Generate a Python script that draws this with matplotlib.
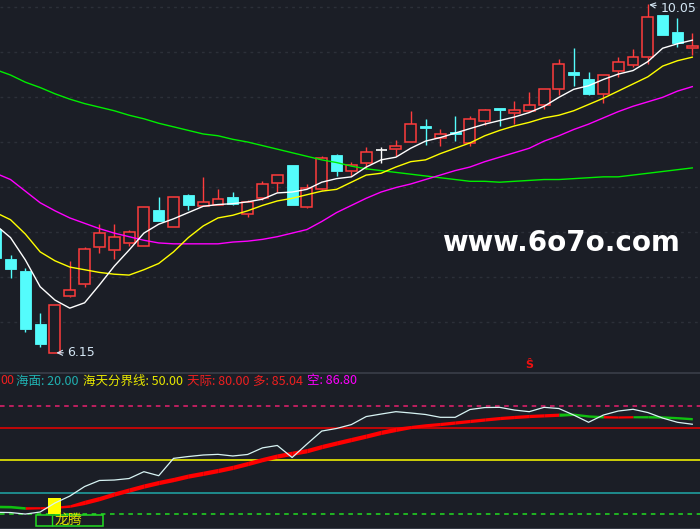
import numpy as np
import matplotlib.pyplot as plt
import matplotlib.transforms as mtransforms
from matplotlib.patches import Rectangle

plt.rcParams['font.family'] = ['Noto Sans CJK SC', 'DejaVu Sans']

# 主图 K线 (最左一根只露出一半)
opens = [7.54, 7.20, 7.07, 6.47, 6.15, 6.79, 6.92, 7.34, 7.30, 7.38,
         7.35, 7.75, 7.56, 7.92, 7.79, 7.80, 7.89, 7.70, 7.88, 8.05,
         8.25, 7.78, 7.98, 8.37, 8.18, 8.28, 8.42, 8.43, 8.51, 8.69,
         8.56, 8.61, 8.50, 8.74, 8.89, 8.84, 8.86, 8.92, 9.10, 9.29,
         9.21, 9.05, 9.30, 9.37, 9.46, 9.93, 9.74, 9.56]
highs = [7.56, 7.25, 7.10, 6.60, 6.68, 7.18, 7.33, 7.59, 7.59, 7.52,
         7.78, 7.89, 7.89, 7.93, 8.12, 7.98, 7.95, 7.86, 8.07, 8.14,
         8.25, 8.04, 8.35, 8.38, 8.29, 8.45, 8.45, 8.53, 8.86, 8.77,
         8.66, 8.80, 8.80, 8.88, 8.89, 8.97, 9.07, 9.10, 9.44, 9.56,
         9.29, 9.26, 9.46, 9.55, 10.05, 9.93, 9.90, 9.73]
lows = [7.19, 6.99, 6.38, 6.21, 6.15, 6.78, 6.89, 7.27, 7.20, 7.35,
        7.35, 7.63, 7.56, 7.75, 7.79, 7.80, 7.81, 7.67, 7.86, 7.95,
        7.80, 7.77, 7.97, 8.13, 8.13, 8.21, 8.27, 8.35, 8.51, 8.48,
        8.47, 8.52, 8.47, 8.70, 8.69, 8.71, 8.85, 8.88, 9.04, 9.14,
        9.04, 8.95, 9.24, 9.35, 9.38, 9.71, 9.57, 9.48]
closes = [7.21, 7.09, 6.42, 6.25, 6.68, 6.85, 7.31, 7.49, 7.45, 7.50,
          7.78, 7.63, 7.89, 7.80, 7.84, 7.87, 7.82, 7.84, 8.04, 8.14,
          7.81, 8.00, 8.33, 8.19, 8.25, 8.40, 8.42, 8.47, 8.71, 8.67,
          8.60, 8.60, 8.77, 8.87, 8.87, 8.87, 8.92, 9.10, 9.38, 9.26,
          9.05, 9.26, 9.41, 9.46, 9.91, 9.71, 9.62, 9.59]

# 均线
ma5 = [7.58, 7.44, 7.19, 6.89, 6.74, 6.65, 6.71, 6.91, 7.12, 7.30,
       7.49, 7.59, 7.65, 7.72, 7.79, 7.81, 7.82, 7.84, 7.87, 7.94,
       7.95, 7.98, 8.06, 8.10, 8.12, 8.23, 8.31, 8.34, 8.44, 8.52,
       8.56, 8.61, 8.66, 8.71, 8.75, 8.79, 8.84, 8.91, 9.01, 9.10,
       9.14, 9.21, 9.27, 9.31, 9.41, 9.56, 9.61, 9.65]
ma10 = [7.72, 7.64, 7.48, 7.28, 7.18, 7.11, 7.08, 7.05, 7.03, 7.02,
        7.08, 7.15, 7.28, 7.44, 7.57, 7.66, 7.69, 7.74, 7.80, 7.85,
        7.88, 7.92, 7.96, 7.98, 8.06, 8.14, 8.16, 8.23, 8.29, 8.31,
        8.38, 8.44, 8.50, 8.58, 8.64, 8.69, 8.73, 8.78, 8.81, 8.86,
        8.93, 9.00, 9.08, 9.16, 9.24, 9.36, 9.42, 9.46]
ma20 = [8.16, 8.09, 7.96, 7.83, 7.74, 7.66, 7.60, 7.54, 7.49, 7.45,
        7.41, 7.38, 7.37, 7.37, 7.37, 7.37, 7.39, 7.40, 7.42, 7.45,
        7.49, 7.53, 7.62, 7.72, 7.80, 7.88, 7.95, 8.00, 8.04, 8.09,
        8.14, 8.19, 8.23, 8.29, 8.34, 8.39, 8.44, 8.52, 8.58, 8.65,
        8.71, 8.78, 8.85, 8.91, 8.96, 9.01, 9.08, 9.13]
ma60 = [9.32, 9.26, 9.18, 9.12, 9.05, 8.99, 8.94, 8.90, 8.86, 8.81,
        8.77, 8.72, 8.68, 8.64, 8.60, 8.58, 8.54, 8.51, 8.47, 8.43,
        8.39, 8.35, 8.31, 8.28, 8.24, 8.21, 8.19, 8.17, 8.15, 8.13,
        8.11, 8.09, 8.07, 8.07, 8.06, 8.07, 8.08, 8.09, 8.09, 8.10,
        8.11, 8.12, 8.12, 8.14, 8.16, 8.18, 8.20, 8.22]
grid_levels = [10.02, 9.52, 9.01, 8.51, 8.01, 7.50, 7.00, 6.49]

# 副图
white_line = [2.0, 1.8, 0.4, 2.3, 10.6, 17.0, 25.8, 31.4, 31.8, 33.2,
              39.5, 35.8, 51.8, 53.5, 54.9, 55.5, 54.0, 55.4, 61.5, 63.7,
              52.6, 65.0, 77.0, 79.4, 83.0, 90.4, 92.7, 94.9, 93.7, 92.3,
              89.7, 89.7, 96.9, 98.7, 98.9, 96.4, 94.9, 98.9, 97.8, 91.8,
              85.1, 91.8, 95.5, 97.1, 94.1, 89.0, 85.1, 83.3]
duo = [6.2, 6.0, 4.8, 7.2, 7.6, 9.0, 13.2, 16.7, 20.9, 24.6,
       28.3, 31.5, 34.3, 37.5, 40.0, 42.6, 45.5, 49.0, 52.7, 56.0,
       58.5, 60.9, 64.7, 68.0, 71.2, 74.4, 77.8, 80.6, 82.2, 83.8,
       85.0, 86.4, 87.8, 89.2, 90.5, 91.5, 92.4, 93.0, 93.6, 91.4,
       89.8, 89.1, 91.0, 91.2, 89.1, 88.9, 88.2, 87.3]
kong = [8.6, 8.4, 7.2, 5.2, 5.6, 6.6, 9.2, 12.7, 16.9, 20.6,
        24.3, 27.5, 30.3, 33.5, 36.0, 38.6, 41.5, 45.0, 48.7, 52.0,
        54.5, 56.9, 60.7, 64.0, 67.2, 70.4, 73.8, 76.6, 79.2, 80.8,
        82.0, 83.4, 84.8, 86.2, 87.5, 88.5, 89.4, 90.0, 90.6, 93.6,
        92.0, 91.3, 89.0, 89.2, 91.3, 91.1, 90.4, 89.5]
level_vals = [0, 20, 50, 80, 100]
level_cols = ['#22dd22', '#20a8a8', '#ffff00', '#ee0000', '#e8206e']
level_ls = ['--', '-', '-', '-', '--']
signal_idx = 4      # 龙腾
signal_val = 15
sell_idx = 36

bg = '#1b1e26'
up_c = '#ff3c3c'
dn_c = '#54fcfc'

fig = plt.figure(figsize=(7, 5.29), dpi=100, facecolor=bg)
ax = fig.add_axes([0, 1 - 372 / 529, 1, 372 / 529], facecolor=bg)
ax2 = fig.add_axes([0, 0, 1, 156 / 529], facecolor=bg)

n = len(opens)
x = np.arange(n)
w = 0.74

# K线
for i in x:
    o, h, l, c = opens[i], highs[i], lows[i], closes[i]
    top, bot = max(o, c), min(o, c)
    if c > o:
        col = up_c
    elif c < o:
        col = dn_c
    else:
        col = 'white'
    ax.vlines(i, top, h, color=col, lw=1, zorder=2)
    ax.vlines(i, l, bot, color=col, lw=1, zorder=2)
    if c > o:
        ax.add_patch(Rectangle((i - w / 2, bot), w, top - bot, facecolor=bg,
                               edgecolor=col, lw=1.1, zorder=3))
    elif c < o:
        ax.add_patch(Rectangle((i - w / 2, bot), w, max(top - bot, 0.02),
                               facecolor=col, edgecolor=col, lw=0.6, zorder=3))
    else:
        ax.hlines(c, i - w / 2, i + w / 2, color=col, lw=1.2, zorder=3)

ax.plot(x, ma60, color='#00ee00', lw=1, zorder=4)
ax.plot(x, ma20, color='#ff00ff', lw=1, zorder=4)
ax.plot(x, ma10, color='#ffff00', lw=1, zorder=4)
ax.plot(x, ma5, color='white', lw=1, zorder=4)

i_lo = int(np.argmin(lows))
i_hi = int(np.argmax(highs))
lab_c = '#d4e6f4'
ax.annotate(f'{lows[i_lo]:.2f}', xy=(i_lo, lows[i_lo]), xytext=(9, 0),
            textcoords='offset points', ha='left', va='center', color=lab_c,
            fontsize=9, family='DejaVu Sans',
            arrowprops=dict(arrowstyle='->', color=lab_c, lw=0.8, shrinkA=1, shrinkB=1))
ax.annotate(f'{highs[i_hi]:.2f}', xy=(i_hi, highs[i_hi]), xytext=(9, -2.8),
            textcoords='offset points', ha='left', va='center', color=lab_c,
            fontsize=9, family='DejaVu Sans',
            arrowprops=dict(arrowstyle='->', color=lab_c, lw=0.8, shrinkA=1, shrinkB=1))

trans = mtransforms.blended_transform_factory(ax.transData, ax.transAxes)
ax.text(sell_idx, 0.005, 'Ŝ', transform=trans, color='#ee1010', fontsize=8,
        ha='center', va='bottom', family='DejaVu Sans', fontweight='bold')

ax.set_xlim(0.2915, 47.52)
ax.set_ylim(5.935, 10.10)
ax.set_yticks(grid_levels)
ax.grid(axis='y', color='#2c3039', lw=1, ls=(0, (2, 3)))
ax.set_xticks([])
ax.tick_params(left=False, labelleft=False)
for s in ax.spines.values():
    s.set_visible(False)

# 副图
for v, c, ls in zip(level_vals, level_cols, level_ls):
    ax2.axhline(v, color=c, lw=1.1, ls=ls, dashes=(3, 3) if ls == '--' else (None, None), zorder=1)

duo_a = np.array(duo)
kong_a = np.array(kong)
mid = (duo_a + kong_a) / 2
half = np.maximum(np.abs(duo_a - kong_a) / 2, 1.0)
for i in range(n - 1):
    col = '#ff0000' if duo_a[i + 1] >= kong_a[i + 1] else '#10c010'
    ax2.fill_between([i, i + 1], [mid[i] - half[i], mid[i + 1] - half[i + 1]],
                     [mid[i] + half[i], mid[i + 1] + half[i + 1]],
                     color=col, lw=0, zorder=3)

ax2.bar(signal_idx, signal_val, width=0.88, bottom=0, color='#ffff00', zorder=4)
ax2.plot(x, white_line, color='#d8f4f4', lw=0.9, zorder=5)

ax2.add_patch(Rectangle((signal_idx - 1.28, -10.4), 4.5, 9.9, fill=False,
                        edgecolor='#22dd22', lw=1.1, zorder=6))
ax2.vlines(signal_idx - 0.22, -10.4, -0.5, color='#22dd22', lw=1, zorder=6)
ax2.text(signal_idx, -5.3, '龙腾', color='#e0e000', fontsize=10,
         ha='left', va='center', zorder=7)

ax2.set_xlim(0.2915, 47.52)
ax2.set_ylim(-13.4, 130.6)
ax2.set_xticks([])
ax2.set_yticks([])
for s in ax2.spines.values():
    s.set_visible(False)
ax2.spines['top'].set_visible(True)
ax2.spines['top'].set_color('#3a3e48')
ax2.spines['top'].set_linewidth(1.2)
ax2.spines['bottom'].set_visible(True)
ax2.spines['bottom'].set_color('#3a3e48')
ax2.spines['bottom'].set_linewidth(1.2)

# 副图标题
hy = 1 - 381 / 529
fig.text(0 / 700, hy, '00', color='#ee2020', fontsize=9, va='center')
fig.text(16 / 700, hy, '海面: 20.00', color='#20b0b0', fontsize=9, va='center')
fig.text(83 / 700, hy, '海天分界线: 50.00', color='#e8e800', fontsize=9, va='center')
fig.text(187 / 700, hy, '天际: 80.00', color='#ee2020', fontsize=9, va='center')
fig.text(253 / 700, hy, '多: 85.04', color='#ee2020', fontsize=9, va='center')
fig.text(307 / 700, hy, '空: 86.80', color='#ff00ff', fontsize=9, va='center')

fig.text(561 / 700, 1 - 243 / 529, 'www.6o7o.com', color='white', fontsize=20,
         fontweight='bold', family='DejaVu Sans', ha='center', va='center')

fig.savefig('out.png', dpi=100, facecolor=bg)
